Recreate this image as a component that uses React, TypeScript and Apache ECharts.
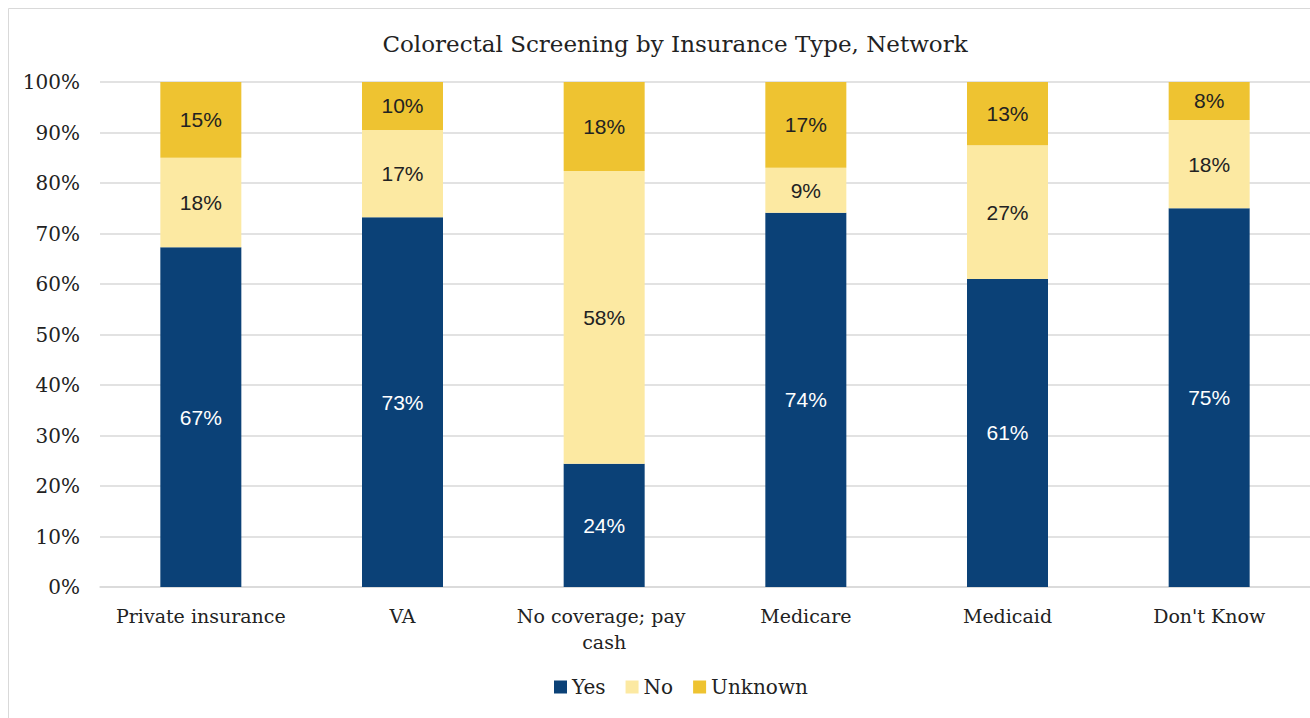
import React, { useEffect, useRef } from "react";
import * as echarts from "echarts";

const categories = ["Private insurance", "VA", "No coverage; pay cash", "Medicare", "Medicaid", "Don't Know"];
const yesValues = [67.3, 73.2, 24.4, 74.1, 61.0, 75.0];
const noValues = [17.7, 17.3, 58.0, 8.9, 26.5, 17.5];
const unknownValues = [15.0, 9.5, 17.6, 17.0, 12.5, 7.5];
const seriesNames = ["Yes", "No", "Unknown"];
const colors = ["#0b4177", "#fce9a2", "#eec331"];
const labelColors = ["#ffffff", "#222222", "#222222"];
const titleText = "Colorectal Screening by Insurance Type, Network";

const SERIF = "'DejaVu Serif', serif";
const SANS = "'Liberation Sans', Arial, sans-serif";

export default function App() {
  const ref = useRef<HTMLDivElement>(null);
  useEffect(() => {
    const chart = echarts.init(ref.current!, null, { renderer: "svg" });
    const data = [yesValues, noValues, unknownValues];
    chart.setOption({
      animation: false,
      backgroundColor: "#ffffff",
      title: {
        text: titleText,
        left: 670,
        textAlign: "center",
        top: 27,
        textStyle: { fontFamily: SERIF, fontSize: 23, fontWeight: "normal", color: "#222" },
      },
      graphic: [
        {
          type: "rect",
          shape: { x: 8.5, y: 8.5, width: 1320, height: 720 },
          style: { fill: "none", stroke: "#d9d9d9", lineWidth: 1 },
          silent: true,
        },
      ],
      legend: {
        bottom: 16,
        left: 549,
        itemWidth: 13,
        itemHeight: 13,
        itemGap: 20,
        icon: "rect",
        textStyle: { fontFamily: SERIF, fontSize: 20, color: "#222" },
        data: seriesNames,
      },
      grid: { left: 100, right: -2, top: 82, bottom: 131, containLabel: false },
      xAxis: {
        type: "category",
        data: categories,
        axisLine: { lineStyle: { color: "#d9d9d9", width: 1.5 } },
        axisTick: { show: false },
        axisLabel: {
          interval: 0,
          fontFamily: SERIF,
          fontSize: 19,
          color: "#222",
          margin: 16,
          width: 195,
          overflow: "break",
          lineHeight: 26,
        },
      },
      yAxis: {
        type: "value",
        min: 0,
        max: 100,
        interval: 10,
        axisLine: { show: false },
        axisTick: { show: false },
        splitLine: { lineStyle: { color: "#d9d9d9", width: 1.5 } },
        axisLabel: {
          fontFamily: SERIF,
          fontSize: 20,
          color: "#222",
          margin: 20,
          formatter: (v: number) => v + "%",
        },
      },
      series: seriesNames.map((name, i) => ({
        name,
        type: "bar",
        stack: "total",
        barWidth: 81,
        data: data[i],
        itemStyle: { color: colors[i] },
        label: {
          show: true,
          position: "inside",
          fontFamily: SANS,
          fontSize: 21,
          color: labelColors[i],
          formatter: (p: any) => Math.round(p.value) + "%",
        },
      })),
    });
    return () => chart.dispose();
  }, []);
  return <div ref={ref} style={{ position: "fixed", left: 0, top: 0, width: 1310, height: 718 }} />;
}
